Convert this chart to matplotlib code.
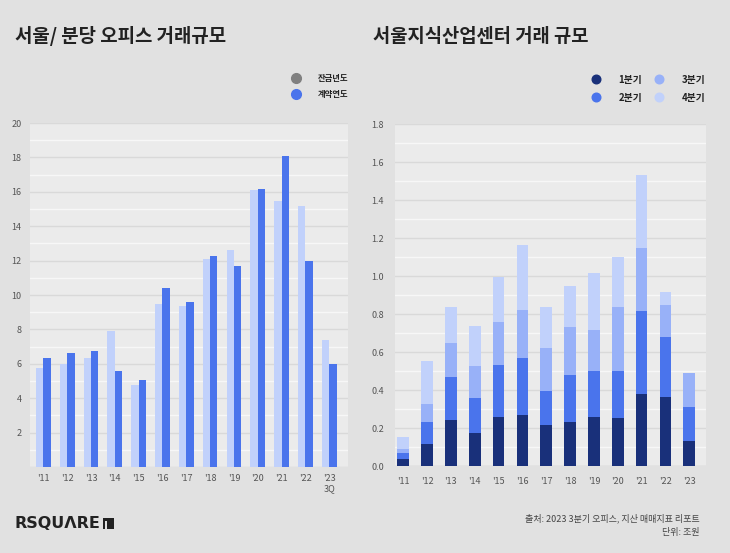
import matplotlib
matplotlib.use('Agg')
import matplotlib.pyplot as plt
from matplotlib.lines import Line2D
from matplotlib.patches import Rectangle
import numpy as np

plt.rcParams['font.family'] = ['Noto Sans CJK KR', 'DejaVu Sans']

# ---- data ----
years_left = ["'11", "'12", "'13", "'14", "'15", "'16", "'17", "'18", "'19", "'20", "'21", "'22", "'23\n3Q"]
payment_year = [5.73, 5.98, 6.35, 7.90, 4.76, 9.48, 9.38, 12.08, 12.62, 16.08, 15.46, 15.15, 7.40]
contract_year = [6.35, 6.64, 6.76, 5.59, 5.05, 10.39, 9.61, 12.27, 11.71, 16.16, 18.10, 11.98, 5.98]

years_right = ["'11", "'12", "'13", "'14", "'15", "'16", "'17", "'18", "'19", "'20", "'21", "'22", "'23"]
q1 = [0.037, 0.119, 0.245, 0.175, 0.258, 0.272, 0.216, 0.233, 0.259, 0.252, 0.380, 0.363, 0.131]
q2 = [0.030, 0.114, 0.225, 0.184, 0.273, 0.299, 0.178, 0.246, 0.242, 0.249, 0.437, 0.317, 0.181]
q3 = [0.026, 0.097, 0.180, 0.169, 0.231, 0.249, 0.228, 0.254, 0.214, 0.337, 0.331, 0.167, 0.177]
q4 = [0.061, 0.224, 0.191, 0.208, 0.232, 0.347, 0.214, 0.214, 0.302, 0.266, 0.387, 0.070, 0.0]

# ---- style ----
fig_bg = '#e1e1e1'
ax_bg = '#ebebeb'
light_blue = '#c1d1fb'
blue = '#4a74ec'
navy = '#19307a'
mid_blue = '#98b1f8'
tick_color = '#555555'

fig = plt.figure(figsize=(7.3, 5.53), dpi=100, facecolor=fig_bg)

def style_axes(ax):
    ax.set_facecolor(ax_bg)
    for s in ax.spines.values():
        s.set_visible(False)
    ax.grid(axis='y', which='major', color='#d9d9d9', linewidth=1.0)
    ax.grid(axis='y', which='minor', color='#f7f7f7', linewidth=1.0)
    ax.set_axisbelow(True)
    ax.tick_params(length=0, labelsize=6.5, labelcolor=tick_color)
    ax.tick_params(axis='y', which='minor', length=0)
    ax.axhline(0, color='#d4d4d4', linewidth=1.0, zorder=0.5)

# ---- left chart ----
ax1 = fig.add_axes([0.0411, 0.1555, 0.4356, 0.622])
style_axes(ax1)
x = np.arange(len(years_left))
w = 0.31
ax1.bar(x - w / 2, payment_year, width=w, color=light_blue, zorder=2)
ax1.bar(x + w / 2, contract_year, width=w, color=blue, zorder=2)
ax1.set_ylim(0, 20)
ax1.set_xlim(-0.56, 12.79)
ax1.set_yticks(np.arange(2, 21, 2))
ax1.set_yticks(np.arange(1, 20, 2), minor=True)
ax1.set_xticks(x)
ax1.set_xticklabels(years_left, linespacing=1.2)
ax1.tick_params(axis='x', pad=5)
ax1.tick_params(axis='y', pad=6)

# ---- right chart ----
ax2 = fig.add_axes([0.541, 0.157, 0.4256, 0.618])
style_axes(ax2)
x2 = np.arange(len(years_right))
w2 = 0.49
b1 = np.array(q1)
b2 = b1 + np.array(q2)
b3 = b2 + np.array(q3)
ax2.bar(x2, q1, width=w2, color=navy, zorder=2)
ax2.bar(x2, q2, width=w2, bottom=b1, color=blue, zorder=2)
ax2.bar(x2, q3, width=w2, bottom=b2, color=mid_blue, zorder=2)
ax2.bar(x2, q4, width=w2, bottom=b3, color=light_blue, zorder=2)
ax2.set_ylim(0, 1.8)
ax2.set_xlim(-0.35, 12.69)
ax2.set_yticks(np.arange(0, 1.81, 0.2))
ax2.set_yticklabels([f'{v:.1f}' for v in np.arange(0, 1.81, 0.2)])
ax2.set_yticks(np.arange(0.1, 1.8, 0.2), minor=True)
ax2.set_xticks(x2)
ax2.set_xticklabels(years_right)
ax2.tick_params(axis='x', pad=8)
ax2.tick_params(axis='y', pad=8)

# ---- titles ----
fig.text(15 / 730, 1 - 36 / 553, '서울/ 분당 오피스 거래규모', fontsize=13.6, fontweight='bold',
         color='#222222', va='center', ha='left')
fig.text(373 / 730, 1 - 36 / 553, '서울지식산업센터 거래 규모', fontsize=13.5, fontweight='bold',
         color='#222222', va='center', ha='left')

# ---- legends ----
def dot(c, size):
    return Line2D([], [], marker='o', linestyle='none', markersize=size, markerfacecolor=c, markeredgecolor=c)

leg1 = fig.legend([dot('#808080', 7), dot(blue, 7)], ['잔금년도', '계약연도'],
                  loc='upper right', bbox_to_anchor=(356 / 730, 1 - 66 / 553),
                  frameon=False, prop={'size': 6, 'weight': 'bold'},
                  handletextpad=2.1, labelspacing=0.9, handlelength=1.0)
leg2 = fig.legend([dot(navy, 6.2), dot(blue, 6.2), dot(mid_blue, 6.2), dot(light_blue, 6.2)],
                  ['1분기', '2분기', '3분기', '4분기'], ncol=2,
                  loc='upper right', bbox_to_anchor=(714 / 730, 1 - 66 / 553),
                  frameon=False, prop={'size': 7, 'weight': 'bold'},
                  handletextpad=1.85, labelspacing=0.8, handlelength=1.0, columnspacing=1.2)
for leg in (leg1, leg2):
    for t in leg.get_texts():
        t.set_color('#222222')

# ---- footer ----
fig.text(15 / 730, 1 - 523 / 553, 'RSQUΛRE', fontsize=11.5, fontweight='bold', color='#222222',
         va='center', ha='left', family='DejaVu Sans')
fig.patches.append(Rectangle((103 / 730, 1 - 528.5 / 553), 10.5 / 730, 11 / 553,
                             transform=fig.transFigure, facecolor='#222222', edgecolor='none'))
fig.patches.append(Rectangle((105.5 / 730, 1 - 528.5 / 553), 1.8 / 730, 8 / 553,
                             transform=fig.transFigure, facecolor=fig_bg, edgecolor='none'))
fig.text(700 / 730, 1 - 518 / 553, '출처: 2023 3분기 오피스, 지산 매매지표 리포트', fontsize=6.5,
         color='#444444', va='center', ha='right')
fig.text(700 / 730, 1 - 532 / 553, '단위: 조원', fontsize=6.5, color='#444444', va='center', ha='right')

fig.savefig('out.png', dpi=100, facecolor=fig_bg)
